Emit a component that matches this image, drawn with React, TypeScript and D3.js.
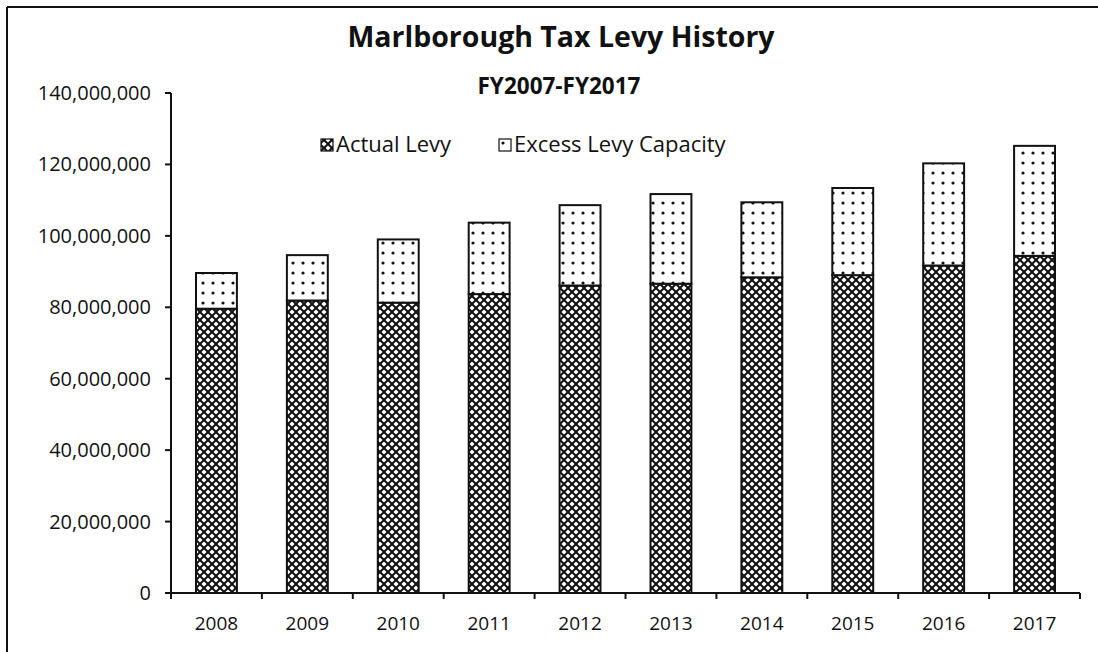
import React from "react";
import * as d3 from "d3";

const years = ["2008", "2009", "2010", "2011", "2012", "2013", "2014", "2015", "2016", "2017"];
const actualLevy = [79600000, 81900000, 81300000, 83700000, 86100000, 86600000, 88400000, 89000000, 91700000, 94400000];
const excessCapacity = [10000000, 12700000, 17700000, 20000000, 22500000, 25100000, 21000000, 24400000, 28600000, 30800000];
const yTicks = [0, 20000000, 40000000, 60000000, 80000000, 100000000, 120000000, 140000000];
const seriesNames = ["Actual Levy", "Excess Levy Capacity"];

const W = 1098;
const H = 652;
const FONT = "'Open Sans', 'Liberation Sans', sans-serif";

export default function App() {
  const rows = years.map((y, i) => ({ year: y, actual: actualLevy[i], excess: excessCapacity[i] }));
  const stack = d3.stack<any>().keys(["actual", "excess"]);
  const stacked = stack(rows);

  const x = d3.scaleBand<string>().domain(years).range([171, 1080]).paddingInner(0.55).paddingOuter(0.275);
  const y = d3.scaleLinear().domain([0, 140000000]).range([593, 93]);
  const fmt = d3.format(",");
  const fills = ["url(#crossHatch)", "url(#dots)"];
  const step = x.step();
  const boundaries = years.map((yr) => (x(yr) as number) - (step - x.bandwidth()) / 2).concat([1080]);

  return (
    <div style={{ position: "fixed", left: 0, top: 0, width: W, height: H, background: "#fff" }}>
      <svg width={W} height={H} style={{ display: "block" }}>
        <defs>
          <pattern id="crossHatch" width="8" height="8" patternUnits="userSpaceOnUse">
            <rect width="8" height="8" fill="#fff" />
            <path d="M-2,2 L2,-2 M0,8 L8,0 M6,10 L10,6" stroke="#111" strokeWidth="2" />
            <path d="M-2,6 L2,10 M0,0 L8,8 M6,-2 L10,2" stroke="#111" strokeWidth="2" />
          </pattern>
          <pattern id="dots" width="10" height="10" patternUnits="userSpaceOnUse">
            <rect width="10" height="10" fill="#fff" />
            <circle cx="3" cy="3" r="1.6" fill="#111" />
          </pattern>
        </defs>

        {/* frame */}
        <line x1={7} y1={7} x2={W} y2={7} stroke="#111" strokeWidth={2} />
        <line x1={7} y1={7} x2={7} y2={H} stroke="#111" strokeWidth={2} />

        {/* title */}
        <text x={561} y={47} textAnchor="middle" fontFamily={FONT} fontWeight="bold" fontSize={28.5} fill="#111">
          Marlborough Tax Levy History
        </text>
        <text x={559} y={94} textAnchor="middle" fontFamily={FONT} fontWeight="bold" fontSize={22.5} fill="#111">
          FY2007-FY2017
        </text>

        {/* legend */}
        <g fontFamily={FONT} fontSize={22} fill="#111">
          <rect x={321} y={139} width={12} height={12} fill={fills[0]} stroke="#111" strokeWidth={1.2} />
          <text x={336} y={152}>{seriesNames[0]}</text>
          <rect x={499} y={139} width={12} height={12} fill={fills[1]} stroke="#111" strokeWidth={1.2} />
          <text x={514} y={152}>{seriesNames[1]}</text>
        </g>

        {/* bars */}
        {stacked.map((s, si) => (
          <g key={s.key}>
            {s.map((d, i) => (
              <rect
                key={i}
                x={x(years[i])}
                width={x.bandwidth()}
                y={y(d[1])}
                height={y(d[0]) - y(d[1])}
                fill={fills[si]}
                stroke="#111"
                strokeWidth={2}
              />
            ))}
          </g>
        ))}

        {/* y axis */}
        <line x1={171} y1={y(0)} x2={171} y2={y(140000000)} stroke="#111" strokeWidth={2} />
        {yTicks.map((t) => (
          <g key={t}>
            <line x1={165} x2={171} y1={y(t)} y2={y(t)} stroke="#111" strokeWidth={2} />
            <text x={151} y={y(t)} dy="0.35em" textAnchor="end" fontFamily={FONT} fontSize={20} fill="#111">
              {fmt(t)}
            </text>
          </g>
        ))}

        {/* x axis */}
        <line x1={171} x2={1080} y1={y(0)} y2={y(0)} stroke="#111" strokeWidth={2} />
        {boundaries.map((b, i) => (
          <line key={i} x1={b} x2={b} y1={y(0)} y2={y(0) + 6} stroke="#111" strokeWidth={2} />
        ))}
        {years.map((yr) => (
          <text
            key={yr}
            x={(x(yr) as number) + x.bandwidth() / 2}
            y={630}
            textAnchor="middle"
            fontFamily={FONT}
            fontSize={19}
            fill="#111"
          >
            {yr}
          </text>
        ))}
      </svg>
    </div>
  );
}
